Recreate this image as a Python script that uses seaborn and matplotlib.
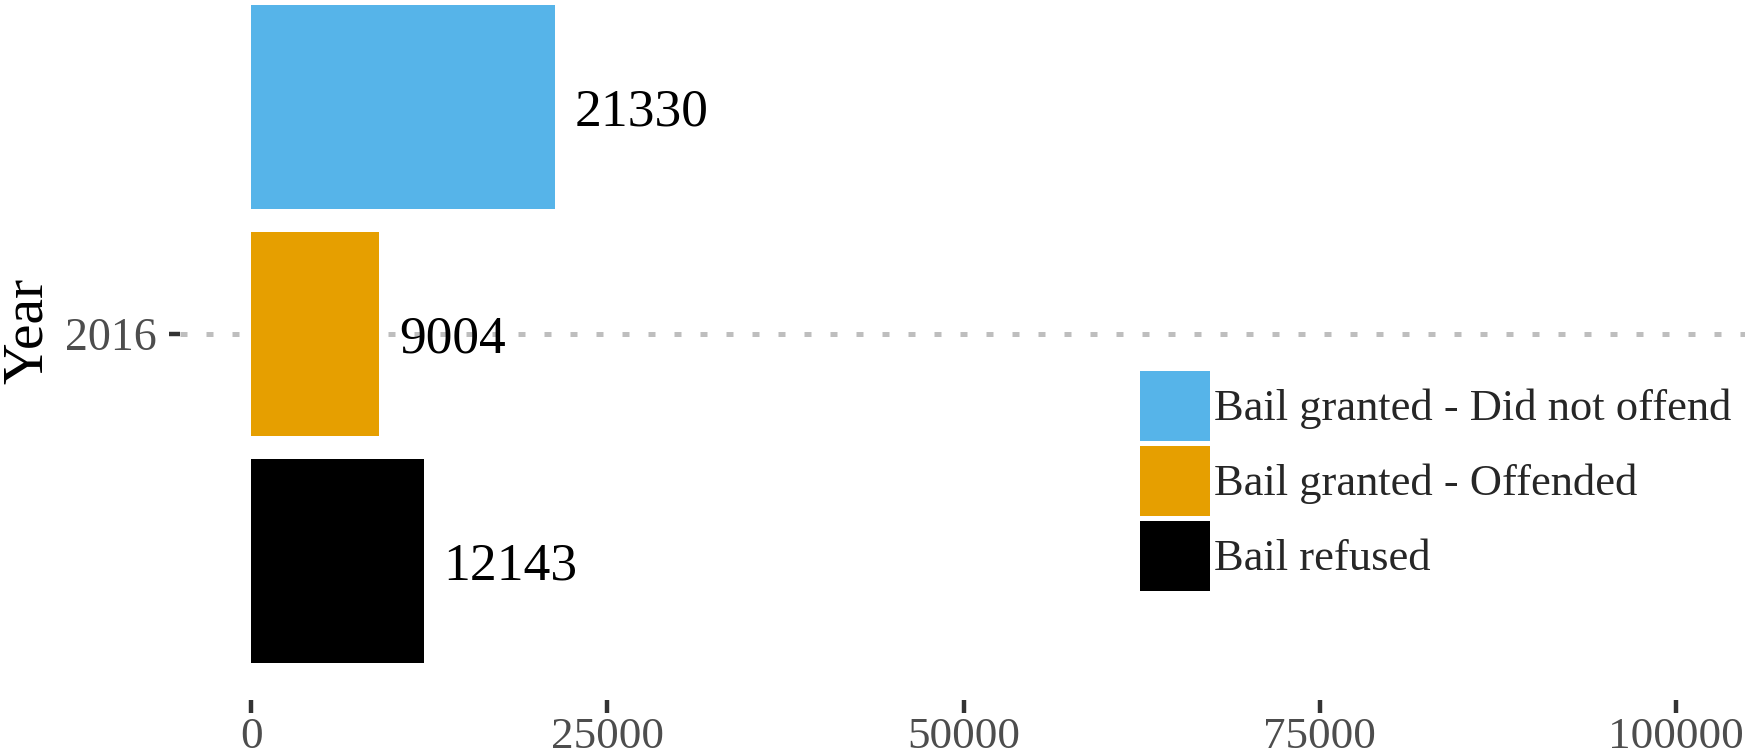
import pandas as pd
import seaborn as sns
import matplotlib.pyplot as plt

# chart values
years = ["2016"]
outcomes = ["Bail granted - Did not offend", "Bail granted - Offended", "Bail refused"]
counts = [21330, 9004, 12143]
colors = ["#56B4E9", "#E69F00", "#000000"]
x_ticks = [0, 25000, 50000, 75000, 100000]

df = pd.DataFrame({
    "Year": years * len(outcomes),
    "Outcome": outcomes,
    "Count": counts,
})

sns.set_theme(style="white")
plt.rcParams["font.family"] = ["Liberation Serif", "DejaVu Serif"]

fig = plt.figure(figsize=(17.45, 7.56), dpi=100)
ax = fig.add_axes([180 / 1745, 56 / 756, 1567 / 1745, 700 / 756])

sns.barplot(data=df, y="Year", x="Count", hue="Outcome", orient="h",
            palette=colors, width=0.9, gap=0.1, ax=ax, saturation=1,
            edgecolor="none", linewidth=0)

# value labels next to each bar
for cont in ax.containers:
    for t in ax.bar_label(cont, fmt="%d", padding=14, fontsize=38.5, color="black"):
        t.set_va("center_baseline")

ax.set_xlim(-5000, 105000)
ax.set_ylim(0.4835, -0.441)
ax.set_xticks(x_ticks)
ax.set_xticklabels([str(t) for t in x_ticks])
ax.set_xlabel("")
ax.set_ylabel("")

ax.grid(axis="y", color="#bebebe", linestyle=(0, (1.4, 3.8)), linewidth=3.6)
ax.grid(axis="x", visible=False)
ax.set_axisbelow(True)
for s in ax.spines.values():
    s.set_visible(False)

ax.tick_params(axis="x", length=9.4, width=3.2, color="#333333", pad=2.5,
               labelsize=32.5, labelcolor="#4d4d4d", direction="out", bottom=True)
ax.tick_params(axis="y", length=8, width=3.2, color="#333333", pad=9,
               labelsize=33, labelcolor="#4d4d4d", direction="out", left=True)

fig.text(28 / 1745, 1 - 331 / 756, "Year", rotation=90, ha="center", va="center",
         fontsize=41.5, color="black")

ax.legend(title=None, loc="upper left", bbox_to_anchor=(1140 / 1745, 1 - 371 / 756),
          bbox_transform=fig.transFigure, frameon=False, fontsize=32,
          handlelength=1.58, handleheight=2.05, labelspacing=0.11,
          handletextpad=0.075, borderpad=0, borderaxespad=0)

plt.savefig("out.png", dpi=100)
